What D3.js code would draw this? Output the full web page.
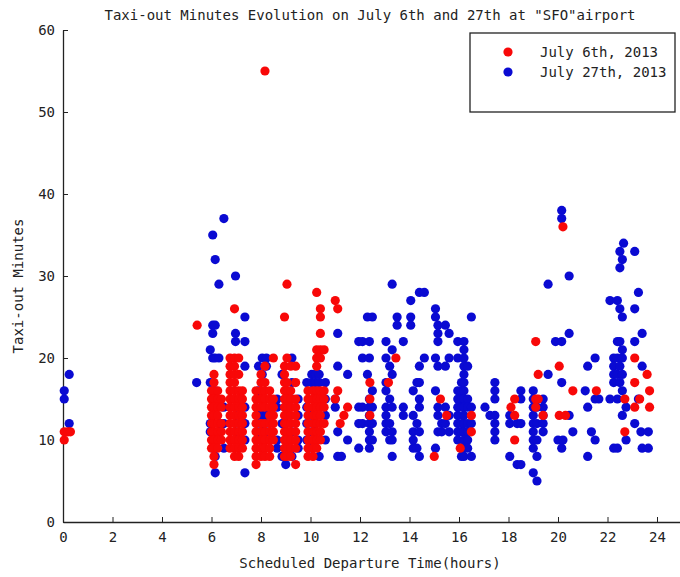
<!DOCTYPE html>
<html>
<head>
<meta charset="utf-8">
<script src="https://cdn.jsdelivr.net/npm/d3@7"></script>
<style>
  body { margin: 0; background: #fff; }
  svg { display: block; }
  text { font-family: "DejaVu Sans Mono", "Liberation Mono", monospace; font-size: 14px; fill: #222; }
</style>
</head>
<body>
<svg id="chart" width="680" height="577"></svg>
<script>
// ---- data: [scheduled hour, [taxi-out minutes ...]] ----
const july6 = [
  [0.05, [10, 11]], [0.2, [11]], [0.3, [11]],
  [5.42, [24]],
  [6.0, [16, 15, 14, 13, 12, 11, 10, 9]],
  [6.1, [18, 17, 16, 15, 14, 13, 12, 11, 10, 9, 8, 7]],
  [6.25, [16, 15, 14, 13, 12, 11, 10, 9]],
  [6.4, [15, 14, 12, 11, 10]],
  [6.75, [20, 19, 18, 17, 16, 15, 14, 13, 12, 11, 10, 9]],
  [6.93, [26, 20, 19, 18, 17, 16, 15, 14, 13, 12, 11, 10, 9, 8]],
  [7.1, [20, 18, 16, 15, 14, 13, 12, 11, 10, 9, 8]],
  [7.25, [16, 15, 14, 13, 12, 11, 10, 9]],
  [7.8, [16, 15, 14, 13, 12, 11, 10, 9, 8, 7]],
  [8.0, [18, 17, 16, 15, 14, 12, 11, 10, 9, 8]],
  [8.16, [55, 19, 17, 16, 15, 14, 12, 11, 10, 9, 8]],
  [8.35, [16, 15, 14, 13, 12, 11, 10, 9, 8]],
  [8.5, [20, 15, 14, 13, 12, 11, 10]],
  [8.95, [25, 19, 18, 17, 16, 15, 14, 13, 12, 11, 10, 9, 8]],
  [9.05, [29, 20, 17, 16, 15, 14, 13, 12, 11, 10, 9, 8]],
  [9.2, [19, 16, 15, 14, 13, 12, 11, 10, 9, 8]],
  [9.4, [19, 17, 15, 14, 13, 12, 11, 10, 9, 7]],
  [9.9, [16, 15, 14, 13, 12, 11, 10, 9, 8]],
  [10.1, [16, 15, 14, 13, 12, 11, 10, 9, 8]],
  [10.25, [28, 21, 20, 19, 16, 15, 14, 13, 12, 11, 10, 9]],
  [10.4, [26, 25, 23, 21, 20, 16, 15, 14, 13, 12, 11, 10]],
  [10.55, [21, 16, 15, 14, 12]],
  [11.0, [27, 15]], [11.1, [26, 16]], [11.2, [12]], [11.35, [13]], [11.5, [14]],
  [12.4, [17, 15, 13]], [13.15, [17]], [13.45, [20]],
  [15.0, [8]], [15.25, [15]], [15.5, [13]], [16.05, [9]],
  [16.5, [13, 11]], [18.1, [14]], [18.25, [15, 13, 10]],
  [19.1, [22, 15, 14]], [19.2, [18, 15]], [19.4, [13]],
  [20.05, [19, 13]], [20.2, [36]], [20.3, [13]], [20.6, [16]], [21.55, [16]],
  [22.7, [15, 11]], [23.1, [20, 17, 14]], [23.3, [15]], [23.6, [18]], [23.7, [16, 14]]
];

const july27 = [
  [0.05, [15, 16]], [0.25, [18, 12]],
  [5.4, [17]],
  [5.95, [21, 17, 12, 11]],
  [6.05, [35, 24, 23, 20, 13, 9]],
  [6.15, [32, 24, 20, 16, 15, 14, 10, 8, 6]],
  [6.3, [29, 20, 12, 11, 10]],
  [6.5, [37, 14, 12, 9]],
  [6.97, [30, 23, 22, 13, 11]],
  [7.35, [25, 22, 19, 14, 12, 10, 6]],
  [7.9, [19, 16, 15, 13, 11, 10]],
  [8.05, [20, 18, 13, 12, 9]],
  [8.22, [20, 19, 13, 11]],
  [8.65, [15, 14, 10, 9]],
  [8.85, [18, 12, 8]],
  [9.0, [16, 14, 12, 7]],
  [9.25, [20, 17, 15, 11, 8]],
  [9.5, [15, 13, 10, 9]],
  [9.85, [17, 14, 12, 10]],
  [10.05, [18, 17, 13, 11, 9]],
  [10.2, [18, 17, 14, 12]],
  [10.35, [18, 17, 15, 8]],
  [10.6, [17, 15, 13, 10]],
  [11.0, [15, 14]], [11.1, [23, 19, 11, 8]], [11.25, [8]], [11.5, [18, 10]],
  [11.95, [22, 14, 12, 9]], [12.1, [22, 20, 14, 12]], [12.3, [25, 18]],
  [12.38, [22, 20, 15, 14, 13, 12, 11, 10, 9]],
  [12.5, [25, 16, 14, 12, 10]],
  [13.05, [22, 20, 17, 16, 14, 13, 12, 11]],
  [13.2, [19, 15, 12, 10]],
  [13.3, [29, 21, 18, 14, 11, 10, 8]],
  [13.5, [25, 24]], [13.75, [22, 14, 13]],
  [14.05, [27, 25, 24]], [14.15, [16, 13, 11, 10, 9]], [14.3, [17, 12, 9]],
  [14.4, [28, 19, 17, 15, 14, 11, 8]], [14.6, [28, 20]],
  [15.05, [26, 25, 20, 16, 9]], [15.15, [24, 23, 22, 19, 14, 13, 11]],
  [15.3, [12, 11]], [15.45, [24, 19, 14, 12]], [15.6, [23, 20, 13, 11]],
  [15.95, [22, 20, 16, 15, 14, 13, 12, 11, 10]],
  [16.1, [17, 16, 15, 14, 12, 11, 9, 8]],
  [16.2, [22, 21, 20, 19, 18, 17, 16, 15, 14, 13, 12, 11, 10, 9, 8]],
  [16.35, [19, 15, 14, 12, 11, 10, 9]],
  [16.5, [25, 14, 12, 8]],
  [17.05, [14]], [17.25, [13]], [17.45, [17, 16, 15, 13, 12, 11, 10]],
  [18.05, [13, 12, 8]], [18.35, [12, 7]], [18.5, [16, 15, 12, 7]],
  [19.0, [16, 15, 14, 13, 12, 11, 10, 9, 6]],
  [19.15, [14, 12, 10, 8, 5]],
  [19.4, [15, 14, 13, 12, 11]],
  [19.6, [29, 18]], [19.9, [22]], [20.0, [10]],
  [20.15, [38, 37, 22, 17, 9]], [20.2, [10]], [20.45, [30, 23, 13]], [20.6, [11]],
  [21.1, [16]], [21.2, [19, 14, 8]], [21.35, [11]], [21.5, [20, 15, 10]], [21.65, [15]],
  [22.1, [27, 15]], [22.25, [20, 19, 18, 17, 9]], [22.4, [27, 22, 20, 18, 15, 9]],
  [22.5, [33, 31, 26, 22, 19, 17]], [22.6, [32, 25, 21, 20, 18, 16, 13]],
  [22.65, [34]], [22.75, [14, 10]],
  [23.1, [33, 26, 22, 12]], [23.25, [28, 15]], [23.4, [23, 19, 9]], [23.35, [11]],
  [23.65, [11, 9]]
];

const xTicks = [0, 2, 4, 6, 8, 10, 12, 14, 16, 18, 20, 22, 24];
const yTicks = [0, 10, 20, 30, 40, 50, 60];
const seriesNames = ["July 6th, 2013", "July 27th, 2013"];
const seriesColors = ["#f80808", "#0a0ad2"];

// ---- layout ----
const svg = d3.select("#chart");
const x = d3.scaleLinear().domain([0, 25]).range([63, 681.75]);
const y = d3.scaleLinear().domain([0, 60]).range([522, 30]);

const flat = cols => cols.flatMap(([h, vs]) => vs.map(v => ({ h, v })));

// axes
const xAxis = d3.axisBottom(x).tickValues(xTicks).tickSizeInner(-5).tickSizeOuter(0).tickPadding(10);
const yAxis = d3.axisLeft(y).tickValues(yTicks).tickSizeInner(-5).tickSizeOuter(0).tickPadding(8);

const gx = svg.append("g").attr("transform", "translate(0,522)").call(xAxis);
const gy = svg.append("g").attr("transform", "translate(63,0)").call(yAxis);
[gx, gy].forEach(g => {
  g.select(".domain").attr("stroke", "#222").attr("stroke-width", 1.3);
  g.selectAll(".tick line").attr("stroke", "#222");
  g.selectAll(".tick text").attr("font-family", "DejaVu Sans Mono, monospace").attr("font-size", 14).attr("fill", "#222");
});

// points: blue (July 27th) underneath, red (July 6th) on top
svg.append("g").selectAll("circle").data(flat(july27)).join("circle")
  .attr("cx", d => x(d.h)).attr("cy", d => y(d.v)).attr("r", 4.6)
  .attr("fill", seriesColors[1]);
svg.append("g").selectAll("circle").data(flat(july6)).join("circle")
  .attr("cx", d => x(d.h)).attr("cy", d => y(d.v)).attr("r", 4.6)
  .attr("fill", seriesColors[0]);

// title & labels
svg.append("text").attr("x", 370).attr("y", 20).attr("text-anchor", "middle")
  .text('Taxi-out Minutes Evolution on July 6th and 27th at "SFO"airport');
svg.append("text").attr("x", 370).attr("y", 568).attr("text-anchor", "middle")
  .text("Scheduled Departure Time(hours)");
svg.append("text").attr("transform", "translate(23,286) rotate(-90)").attr("text-anchor", "middle")
  .text("Taxi-out Minutes");

// legend
const lg = svg.append("g");
lg.append("rect").attr("x", 470).attr("y", 33).attr("width", 205).attr("height", 79)
  .attr("fill", "#fff").attr("stroke", "#222").attr("stroke-width", 1.3);
seriesNames.forEach((name, i) => {
  lg.append("circle").attr("cx", 508).attr("cy", 52 + i * 20).attr("r", 4.6).attr("fill", seriesColors[i]);
  lg.append("text").attr("x", 540).attr("y", 57 + i * 20).text(name);
});
</script>
</body>
</html>
